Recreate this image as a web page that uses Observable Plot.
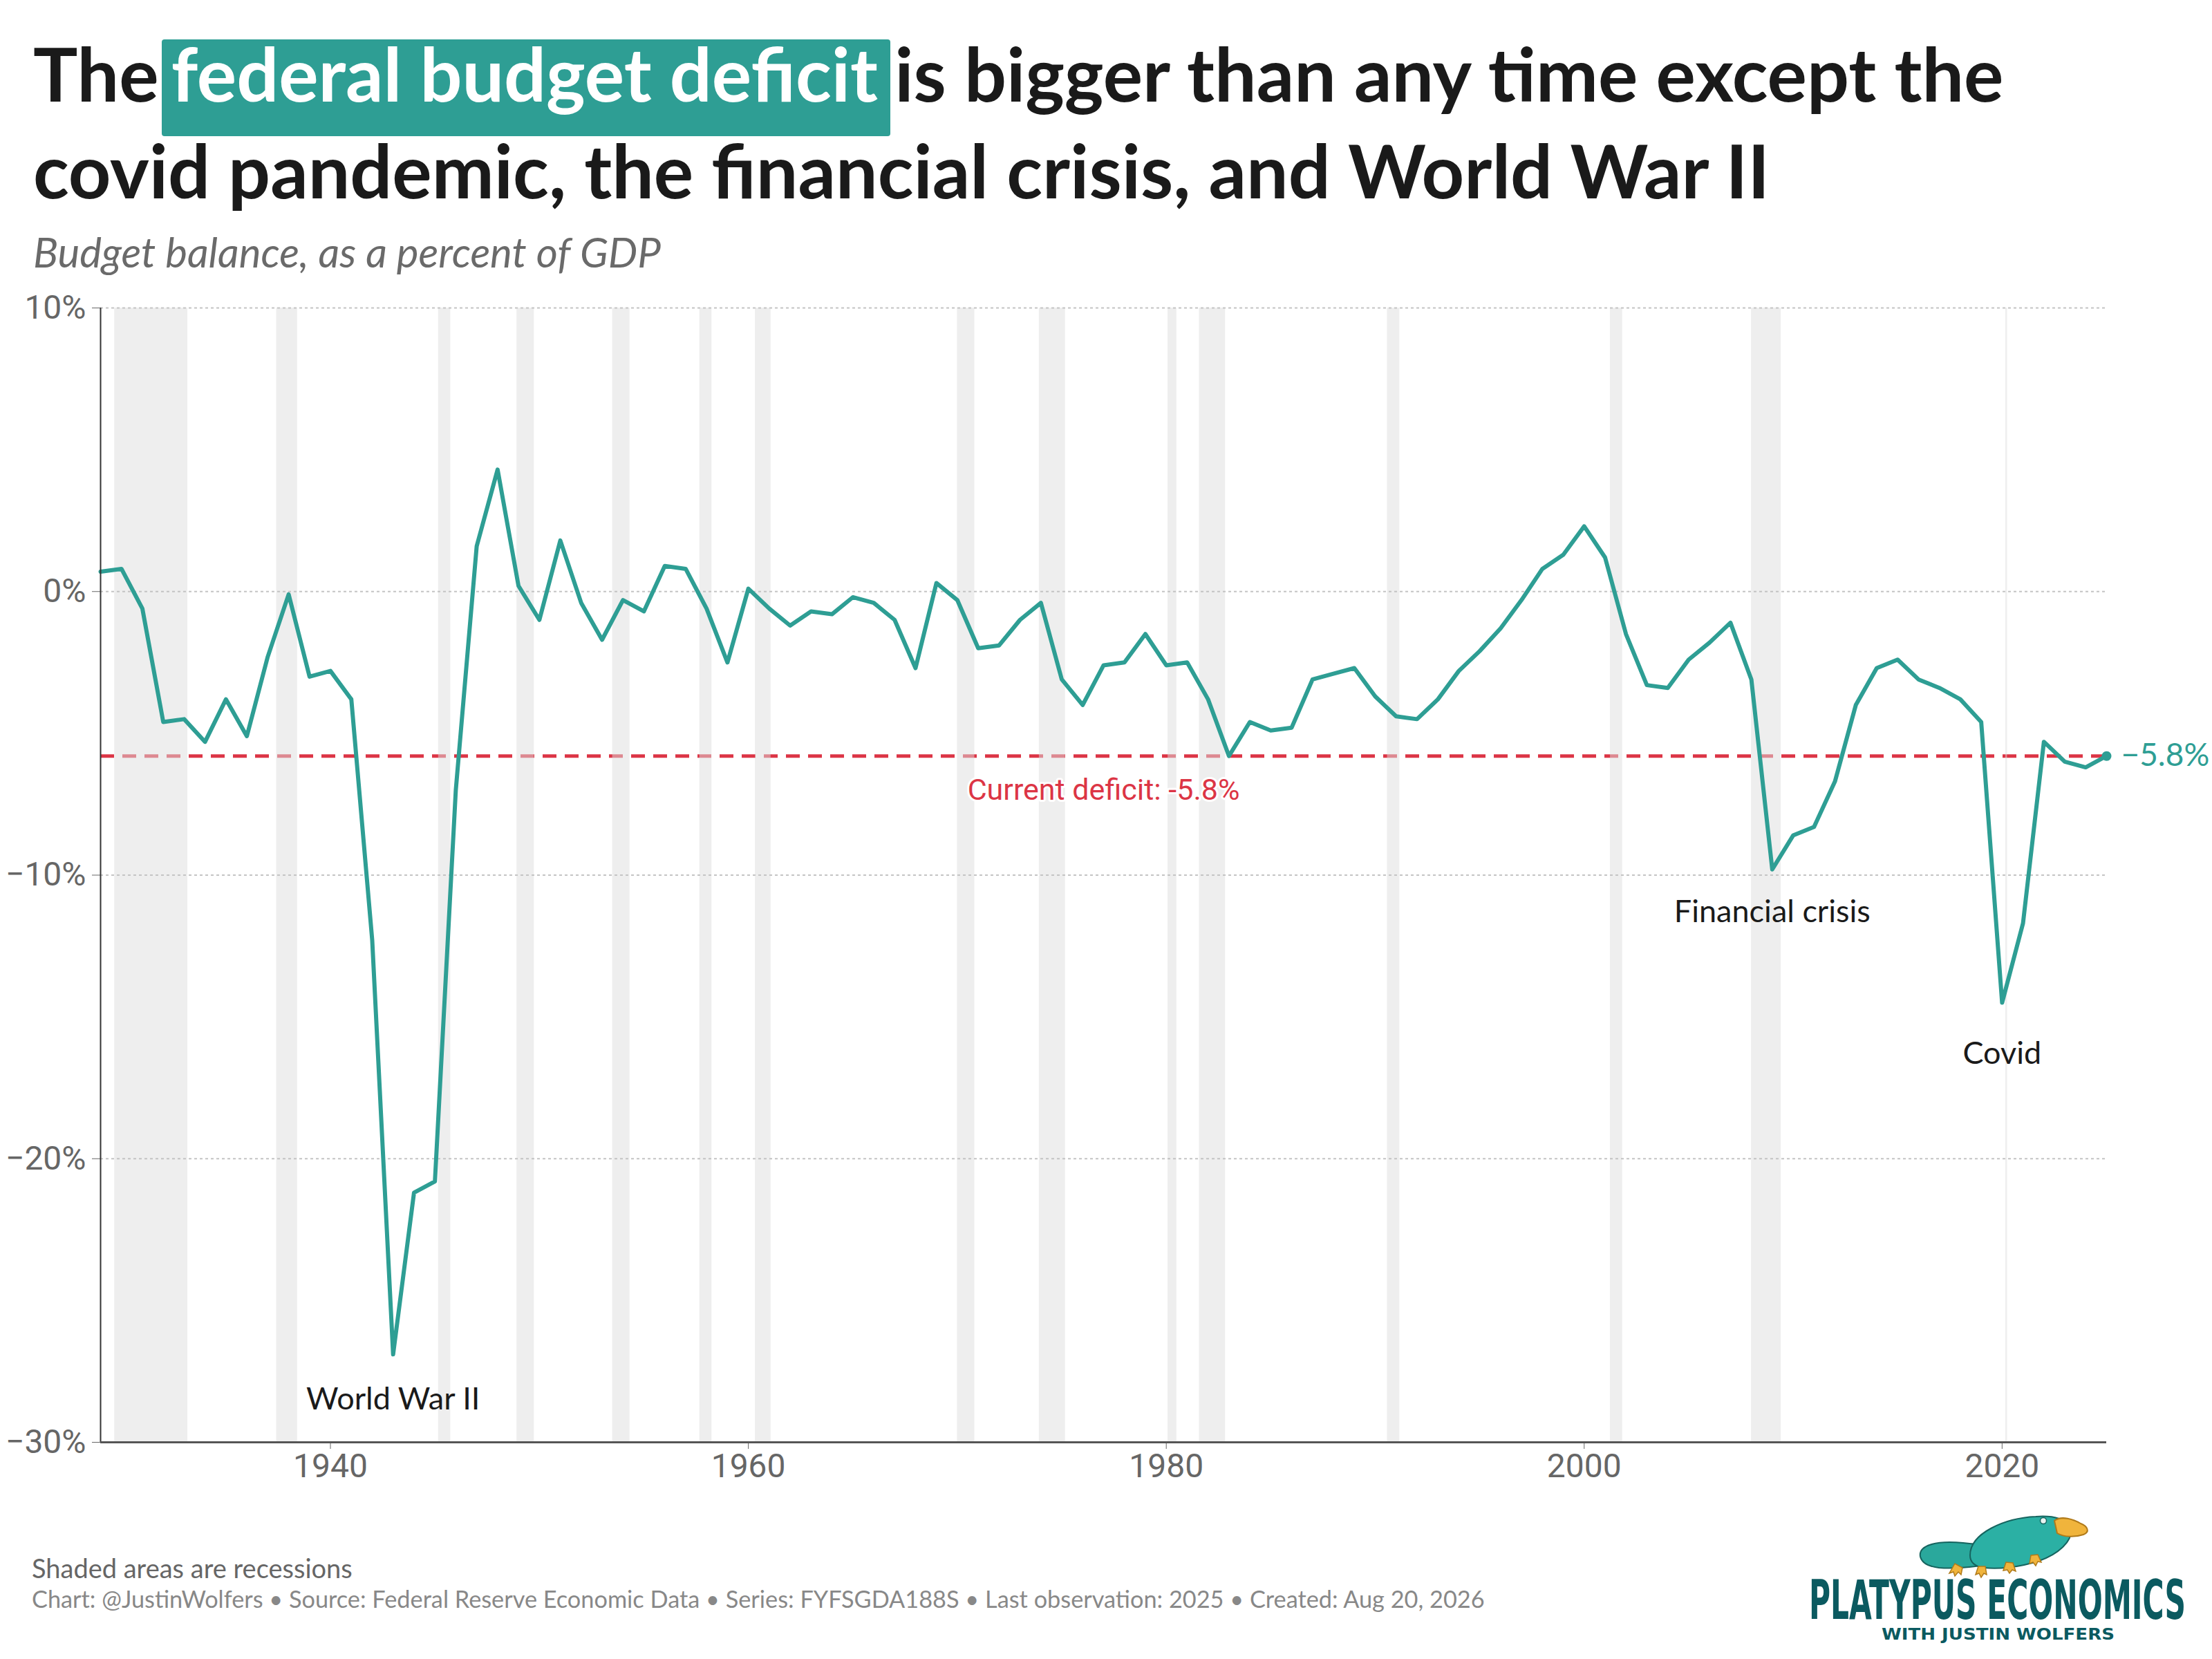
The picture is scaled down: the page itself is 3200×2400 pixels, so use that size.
<!DOCTYPE html>
<html>
<head>
<meta charset="utf-8">
<script src="https://cdn.jsdelivr.net/npm/d3@7"></script>
<script src="https://cdn.jsdelivr.net/npm/@observablehq/plot@0.6"></script>
<style>
  body { margin: 0; background: #fff; }
  #page { position: relative; width: 3200px; height: 2400px; background: #fff; overflow: hidden; font-family: Lato, sans-serif; }
  #title { position: absolute; left: 48px; top: 36px; font-size: 107.5px; line-height: 140px; font-weight: 700; color: #1a1a1a; white-space: nowrap; }
  #title .hl { display: inline-block; background: #2e9e94; color: #fff; line-height: 98px; padding: 0 18px 42px 14px; margin: 0 -20px -21px -22px; border-radius: 4px; }
  #title .after { margin-left: 22px; }
  #subtitle { position: absolute; left: 48px; top: 329px; font-size: 60px; line-height: 70px; font-style: italic; color: #6a6a6a; white-space: nowrap; }
  #chart { position: absolute; left: 0; top: 400px; }
  .note { position: absolute; left: 46px; line-height: 44px; white-space: nowrap; }
  #note1 { top: 2246px; color: #666; font-size: 38px; }
  #note2 { top: 2291px; color: #888; font-size: 34.3px; }
  #logo { position: absolute; left: 2600px; top: 2170px; }
</style>
</head>
<body>
<div id="page">
  <div id="title">The <span class="hl">federal budget deficit</span> is bigger than any time except the<br>covid pandemic, the financial crisis, and World War II</div>
  <div id="subtitle">Budget balance, as a percent of GDP</div>
  <div id="chart"></div>
  <div class="note" id="note1">Shaded areas are recessions</div>
  <div class="note" id="note2">Chart: @JustinWolfers • Source: Federal Reserve Economic Data • Series: FYFSGDA188S • Last observation: 2025 • Created: Aug 20, 2026</div>
  <svg id="logo" width="600" height="230" viewBox="0 0 600 230">
    <g stroke="#16645f" stroke-width="2">
      <path d="M178,82 C175,66 200,58 240,62 C262,64 280,66 290,70 L286,92 C262,96 230,100 205,98 C188,96 180,90 178,82 Z" fill="#2aa89c"/>
      <path d="M250,80 C250,48 300,26 345,24 C372,22 392,28 396,42 C398,60 378,78 350,88 C320,98 290,100 270,98 C256,96 250,90 250,80 Z" fill="#2bb0a4"/>
    </g>
    <path d="M372,30 C382,22 400,28 410,34 C420,38 424,46 414,50 C402,54 386,54 376,48 Z" fill="#f0b43c" stroke="#b07a1a" stroke-width="2"/>
    <circle cx="356" cy="30" r="4.5" fill="#e8f4f2" stroke="#16645f" stroke-width="1.5"/>
    <g fill="#f0b43c" stroke="#b07a1a" stroke-width="1.5">
      <path d="M228,92 l-8,14 l6,-2 l2,6 l5,-6 l4,4 l2,-10 Z"/>
      <path d="M262,96 l-4,12 l5,-2 l3,6 l4,-6 l4,2 l-2,-12 Z"/>
      <path d="M302,90 l-4,12 l6,-1 l3,5 l4,-5 l5,2 l-4,-12 Z"/>
      <path d="M338,80 l-2,12 l5,-2 l4,5 l3,-6 l5,1 l-5,-11 Z"/>
    </g>
    <text x="17" y="172" font-family="'DejaVu Sans Condensed', 'DejaVu Sans', sans-serif" font-weight="bold" font-size="78" fill="#0b5a60" textLength="545" lengthAdjust="spacingAndGlyphs">PLATYPUS ECONOMICS</text>
    <text x="122" y="202" font-family="'DejaVu Sans', sans-serif" font-weight="bold" font-size="23" fill="#0b5a60" textLength="337" lengthAdjust="spacingAndGlyphs">WITH JUSTIN WOLFERS</text>
  </svg>
</div>
<script>
// ---- Data ----
const firstYear = 1929;
const balance = [
  0.7, 0.8, -0.6, -4.6, -4.5, -5.3, -3.8, -5.1, -2.3, -0.1,      // 1929-1938
  -3.0, -2.8, -3.8, -12.3, -26.9, -21.2, -20.8, -7.0, 1.6, 4.3,  // 1939-1948
  0.2, -1.0, 1.8, -0.4, -1.7, -0.3, -0.7, 0.9, 0.8, -0.6,        // 1949-1958
  -2.5, 0.1, -0.6, -1.2, -0.7, -0.8, -0.2, -0.4, -1.0, -2.7,     // 1959-1968
  0.3, -0.3, -2.0, -1.9, -1.0, -0.4, -3.1, -4.0, -2.6, -2.5,     // 1969-1978
  -1.5, -2.6, -2.5, -3.8, -5.8, -4.6, -4.9, -4.8, -3.1, -2.9,    // 1979-1988
  -2.7, -3.7, -4.4, -4.5, -3.8, -2.8, -2.1, -1.3, -0.3, 0.8,     // 1989-1998
  1.3, 2.3, 1.2, -1.5, -3.3, -3.4, -2.4, -1.8, -1.1, -3.1,       // 1999-2008
  -9.8, -8.6, -8.3, -6.7, -4.0, -2.7, -2.4, -3.1, -3.4, -3.8,    // 2009-2018
  -4.6, -14.5, -11.7, -5.3, -6.0, -6.2, -5.8                     // 2019-2025
];
const recessionStart = [1929.67, 1937.42, 1945.17, 1948.92, 1953.5, 1957.67, 1960.33, 1970.0, 1973.92, 1980.08, 1981.58, 1990.58, 2001.25, 2008.0, 2020.17];
const recessionEnd   = [1933.17, 1938.42, 1945.75, 1949.75, 1954.33, 1958.25, 1961.08, 1970.83, 1975.17, 1980.5, 1982.83, 1991.17, 2001.83, 2009.42, 2020.25];
const xTicks = [1940, 1960, 1980, 2000, 2020];
const yTicks = [-30, -20, -10, 0, 10];
const gridLines = [-20, -10, 0, 10];
const currentDeficit = -5.8;
const annotationText = ["World War II", "Financial crisis", "Covid"];
const annotationYear = [1943, 2009, 2020];
const annotationValue = [-28.5, -11.3, -16.3];
const currentLabel = ["Current deficit: -5.8%"];
const currentLabelYear = [1977];
const currentLabelValue = [-7.0];

// ---- Build tables ----
const series = balance.map((v, i) => ({year: firstYear + i, value: v}));
const last = [series[series.length - 1]];
const recessions = recessionStart.map((s, i) => ({start: s, end: recessionEnd[i]}));
const annotations = annotationText.map((t, i) => ({text: t, year: annotationYear[i], value: annotationValue[i]}));
const curLab = currentLabel.map((t, i) => ({text: t, year: currentLabelYear[i], value: currentLabelValue[i]}));
const fmtPct = d => (d < 0 ? "\u2212" : "") + Math.abs(d) + "%";

const teal = "#2e9e94";
const red = "#dc3545";

const chart = Plot.plot({
  width: 3200,
  height: 1766,
  marginLeft: 145,
  marginRight: 153,
  marginTop: 45,
  marginBottom: 80,
  style: {fontFamily: "Roboto, sans-serif", fontSize: "48px", color: "#666", background: "#fff", overflow: "visible"},
  x: {domain: [1929, 2025], ticks: xTicks, tickFormat: d => String(d), tickSize: 10, tickPadding: 6, label: null},
  y: {domain: [-30, 10], ticks: yTicks, tickFormat: fmtPct, tickSize: 12, tickPadding: 9, label: null},
  marks: [
    Plot.ruleY([currentDeficit], {stroke: red, strokeWidth: 5, strokeDasharray: "20,12"}),
    Plot.rect(recessions, {x1: "start", x2: "end", y1: -30, y2: 10, fill: "#dddddd", fillOpacity: 0.5}),
    Plot.ruleY(gridLines, {stroke: "#c4c4c4", strokeWidth: 2, strokeDasharray: "4,4"}),
    Plot.line(series, {x: "year", y: "value", stroke: teal, strokeWidth: 6}),
    Plot.dot(last, {x: "year", y: "value", r: 7, fill: teal}),
    Plot.text(last, {x: "year", y: "value", text: d => fmtPct(d.value), dx: 21, textAnchor: "start", fill: teal, fontFamily: "Lato, sans-serif", fontSize: 46}),
    Plot.text(curLab, {x: "year", y: "value", text: "text", fill: red, fontFamily: "Roboto, sans-serif", fontSize: 43, stroke: "#fff", strokeWidth: 6, paintOrder: "stroke"}),
    Plot.text(annotations, {x: "year", y: "value", text: "text", fill: "#1a1a1a", fontFamily: "Lato, sans-serif", fontSize: 45}),
    Plot.ruleX([1929], {stroke: "#333", strokeWidth: 2}),
    Plot.ruleY([-30], {stroke: "#555", strokeWidth: 3})
  ]
});
document.getElementById("chart").appendChild(chart);
</script>
</body>
</html>
